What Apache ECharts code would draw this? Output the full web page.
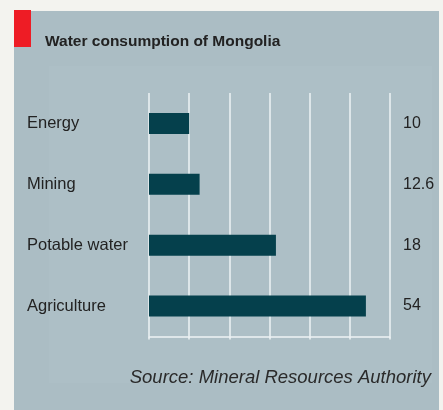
<!DOCTYPE html>
<html>
<head>
<meta charset="utf-8">
<style>
  html, body { margin: 0; padding: 0; background: #f3f3ef; }
  #chart { width: 443px; height: 410px; }
</style>
<script src="https://cdn.jsdelivr.net/npm/echarts@6/dist/echarts.min.js"></script>
</head>
<body>
<div id="chart"></div>
<script>
// sectors, top to bottom
var sectors = ['Energy', 'Mining', 'Potable water', 'Agriculture'];
// bar lengths as drawn in the picture (axis 0..60)
var barLengths = [10, 12.6, 31.6, 54];
// numbers printed at the right
var valueLabels = ['10', '12.6', '18', '54'];

var chart = echarts.init(document.getElementById('chart'));
chart.setOption({
    backgroundColor: '#f3f3ef',
    animation: false,
    graphic: [
        { type: 'rect', shape: { x: 14, y: 11, width: 425, height: 399 }, style: { fill: '#abbdc4' }, z: -10 },
        { type: 'rect', shape: { x: 49, y: 66, width: 383, height: 317 }, style: { fill: '#adbfc6' }, z: -9 },
        { type: 'rect', shape: { x: 14, y: 10, width: 17, height: 37 }, style: { fill: '#ee1c25' }, z: -8 }
    ],
    title: [{
        text: 'Water consumption of Mongolia',
        left: 45,
        top: 34,
        padding: 0,
        textStyle: { fontFamily: 'Liberation Sans', fontSize: 15.5, fontWeight: 'bold', color: '#222' }
    }, {
        text: 'Source: Mineral Resources Authority',
        right: 12,
        top: 368,
        padding: 0,
        textStyle: { fontFamily: 'Liberation Sans', fontSize: 18.5, fontStyle: 'italic', fontWeight: 'normal', color: '#2a2a2a' }
    }],
    grid: { left: 149, right: 53, top: 93, bottom: 73.5 },
    xAxis: {
        type: 'value',
        min: 0,
        max: 60,
        interval: 10,
        axisLabel: { show: false },
        axisLine: { show: true, lineStyle: { color: '#eef3f5', width: 1.5 } },
        axisTick: { show: true, length: 3, lineStyle: { color: '#eef3f5', width: 1.5 } },
        splitLine: { show: true, lineStyle: { color: '#eef3f5', width: 1.5 } }
    },
    yAxis: [{
        type: 'category',
        data: sectors,
        inverse: true,
        axisLine: { show: false },
        axisTick: { show: false },
        axisLabel: { align: 'left', margin: 122, fontFamily: 'Liberation Sans', fontSize: 16.5, color: '#222', padding: [0, 0, 6, 0] }
    }, {
        type: 'category',
        data: valueLabels,
        inverse: true,
        position: 'right',
        axisLine: { show: false },
        axisTick: { show: false },
        axisLabel: { align: 'left', margin: 13, fontFamily: 'Liberation Sans', fontSize: 16, color: '#222', padding: [0, 0, 8, 0] }
    }],
    series: [{
        type: 'bar',
        data: barLengths,
        barWidth: 21,
        itemStyle: { color: '#05404c' },
        silent: true
    }]
});
</script>
</body>
</html>
